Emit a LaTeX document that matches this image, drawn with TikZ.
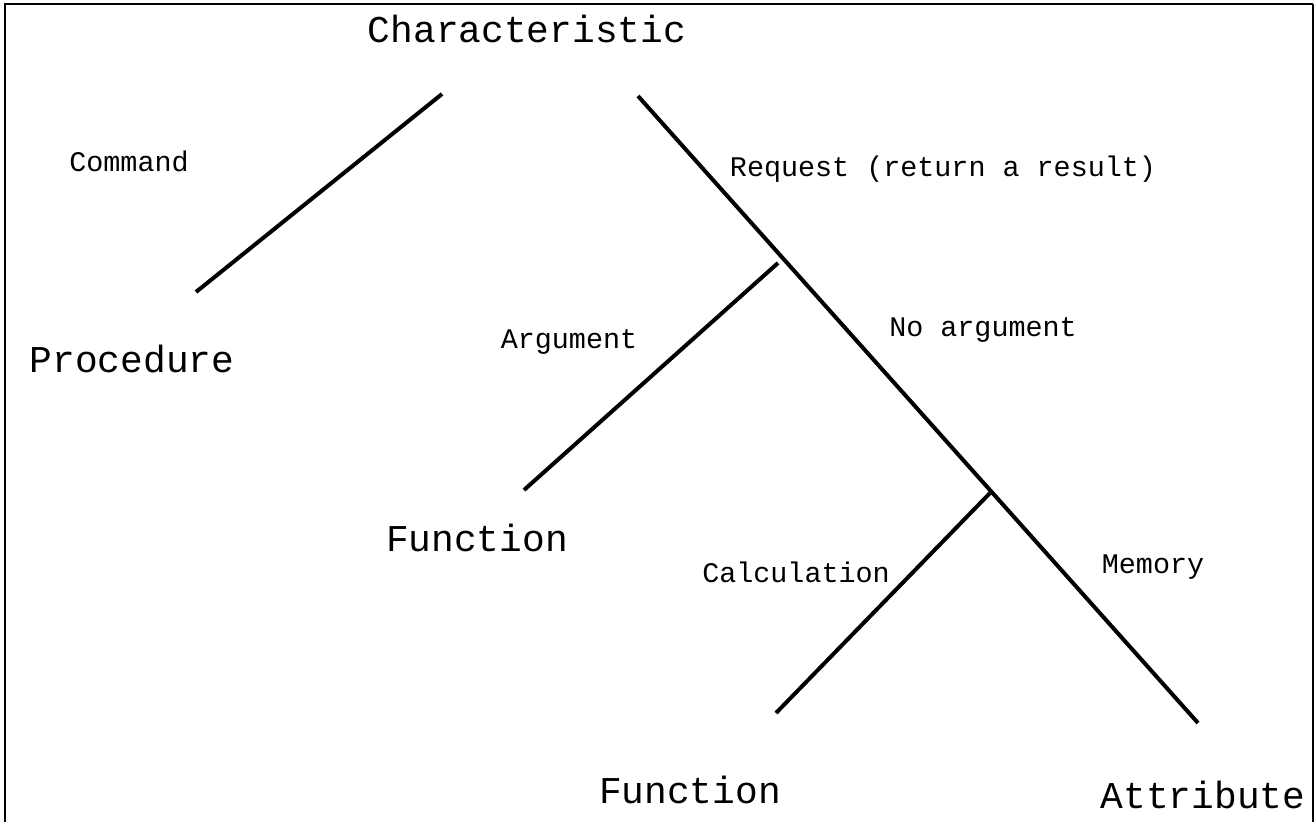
\documentclass[tikz,border=0pt]{standalone}
\usepackage{fontspec}
\setmainfont{Liberation Mono}
\begin{document}
\begin{tikzpicture}[x=0.75pt,y=-0.75pt,
  big/.style={font=\fontsize{28.4}{30}\selectfont,anchor=base,inner sep=0pt},
  small/.style={font=\fontsize{21.3}{24}\selectfont,anchor=base,inner sep=0pt},
  branch/.style={line width=3pt}]
\useasboundingbox (0,0) rectangle (1316,821);
\draw[line width=2.2pt] (5,830) -- (5,4) -- (1313,4);
\draw[line width=0.8pt] (1313,4) -- (1313,830);
\node[big] (char) at (527,42) {Characteristic};
\node[big] (proc) at (132,372) {Procedure};
\node[big] (func1) at (477,551) {Function};
\node[big] (func2) at (690,803) {Function};
\node[big] (attr) at (1203,808) {Attribute};
\node[small] (cmd) at (129,171) {Command};
\node[small] (req) at (943,176) {Request (return a result)};
\node[small] (arg) at (569,348) {Argument};
\node[small] (noarg) at (983,336) {No argument};
\node[small] (calc) at (796,582) {Calculation};
\node[small] (mem) at (1153,573) {Memory};
\coordinate (a1) at (442,94);
\coordinate (a2) at (196,292);
\coordinate (b1) at (638,96);
\coordinate (b2) at (1198,723);
\coordinate (c1) at (778,263);
\coordinate (c2) at (524,490);
\coordinate (d1) at (990,493);
\coordinate (d2) at (776,713);
\draw[branch] (a1) -- (a2);
\draw[branch] (b1) -- (b2);
\draw[branch] (c1) -- (c2);
\draw[branch] (d1) -- (d2);
\end{tikzpicture}
\end{document}
